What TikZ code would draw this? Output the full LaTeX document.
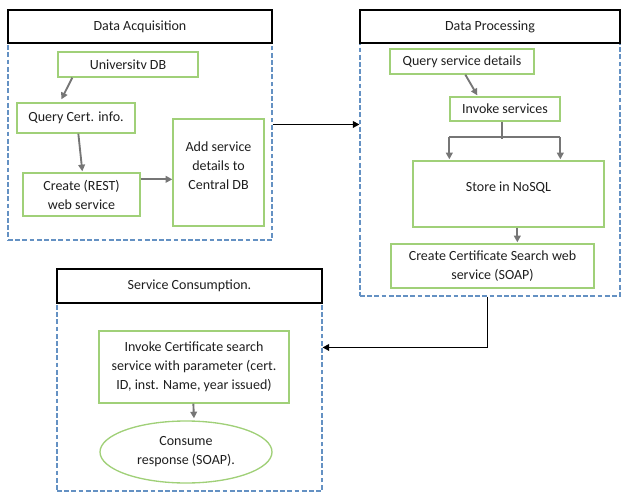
\documentclass[tikz,border=0pt]{standalone}
\usepackage{fontspec}
\setmainfont{Carlito}
\usetikzlibrary{shapes.geometric,arrows.meta,calc}
\definecolor{boxgreen}{RGB}{160,208,120}
\definecolor{dashblue}{RGB}{100,145,195}
\definecolor{arrgrey}{RGB}{118,118,118}
\definecolor{txt}{RGB}{30,30,30}
\newcommand\bx[7]{\node[#6, minimum width={(#4-#2)*0.75pt}, minimum height={(#5-#3)*0.75pt}] (#1) at ({(#2+#4)/2},{(#3+#5)/2}) {#7};}
\tikzset{
  basefont/.style={font=\fontsize{10.5}{14.25}\selectfont, text=txt},
  header/.style={draw=black, line width=1.4pt, inner sep=0pt, basefont},
  container/.style={draw=dashblue, dash pattern=on 3.6pt off 1.8pt, line width=0.8pt, inner sep=0pt},
  gbox/.style={draw=boxgreen, line width=1pt, inner sep=0pt, align=center, basefont},
  gell/.style={ellipse, draw=boxgreen, line width=1pt, inner sep=0pt, align=center, basefont},
  gline/.style={draw=arrgrey, line width=1.4pt},
  garrow/.style={gline, -{Triangle[length=5pt,width=5pt]}},
  barrow/.style={draw=black, line width=1.4pt, -{Triangle[length=5pt,width=5pt]}},
}
\begin{document}
\begin{tikzpicture}[x=0.75pt,y=-0.75pt]
\useasboundingbox (0,0) rectangle (622,493);
% containers
\bx{cA}{8}{43}{272}{240}{container}{}
\bx{cP}{360}{43}{620}{296}{container}{}
\bx{cS}{57}{303}{322}{491}{container}{}
% headers
\bx{hA}{8}{10}{272}{43}{header}{Data Acquisition}
\bx{hP}{360}{10}{620}{43}{header}{Data Processing}
\bx{hS}{57}{269}{322}{303}{header}{Service Consumption.}
% Data Acquisition
\bx{uni}{58}{52}{198}{77}{gbox}{Universitv DB}
\bx{qci}{17}{103}{135}{133}{gbox}{Query Cert. info.}
\bx{crs}{23}{173}{140}{216}{gbox}{Create (REST)\\web service}
\bx{asd}{173}{119}{264}{226}{gbox}{Add service\\details to\\Central DB\\[-4.5pt]}
% Data Processing
\bx{qsd}{390}{49}{534}{74}{gbox}{Query service details}
\bx{inv}{450}{97}{560}{121}{gbox}{Invoke services}
\bx{nos}{413}{161}{604}{227}{gbox}{Store in NoSQL\\[-4pt]}
\bx{ccs}{391}{244}{594}{288}{gbox}{Create Certificate Search web\\service (SOAP)}
% Service Consumption
\bx{ics}{99}{331}{289}{403}{gbox}{Invoke Certificate search\\service with parameter (cert.\\ID, inst. Name, year issued)}
\bx{ell}{100}{421}{272}{483}{gell}{Consume\\response (SOAP).}
% arrows in Data Acquisition
\draw[garrow] ($(uni.south west)+(15,0)$) -- ($(qci.north west)+(45,-3)$);
\draw[garrow] ($(qci.south west)+(62,0)$) -- ($(crs.north west)+(60,-1)$);
\coordinate (c1) at ($(crs.north east)+(0,7)$);
\draw[garrow] (c1) -- (asd.west |- c1);
% link Acquisition -> Processing
\coordinate (c2) at ($(cA.north east)+(0,82)$);
\draw[barrow] (c2) -- (cP.west |- c2);
% arrows in Data Processing
\draw[garrow] ($(qsd.south west)+(76,0)$) -- ($(inv.north west)+(28,-1)$);
\coordinate (bl) at ($(nos.north west)+(37,-23)$);
\coordinate (br) at ($(nos.north west)+(148,-23)$);
\draw[gline] ($(inv.south west)+(53,0)$) -- ($(inv.south west)+(53,17)$);
\draw[gline] (bl) -- (br);
\draw[garrow] (bl) -- ($(bl)+(0,22)$);
\draw[garrow] (br) -- ($(br)+(0,22)$);
\draw[garrow] ($(nos.south west)+(105,0)$) -- ($(ccs.north west)+(127,-1)$);
% link Processing -> Consumption
\coordinate (c3) at ($(cS.north east)+(0,45)$);
\draw[barrow] ($(cP.south west)+(128,0)$) |- (c3);
% arrow in Consumption
\draw[garrow] ($(ics.south west)+(95,0)$) -- ($(ell.north)+(8,-2)$);
\end{tikzpicture}
\end{document}
